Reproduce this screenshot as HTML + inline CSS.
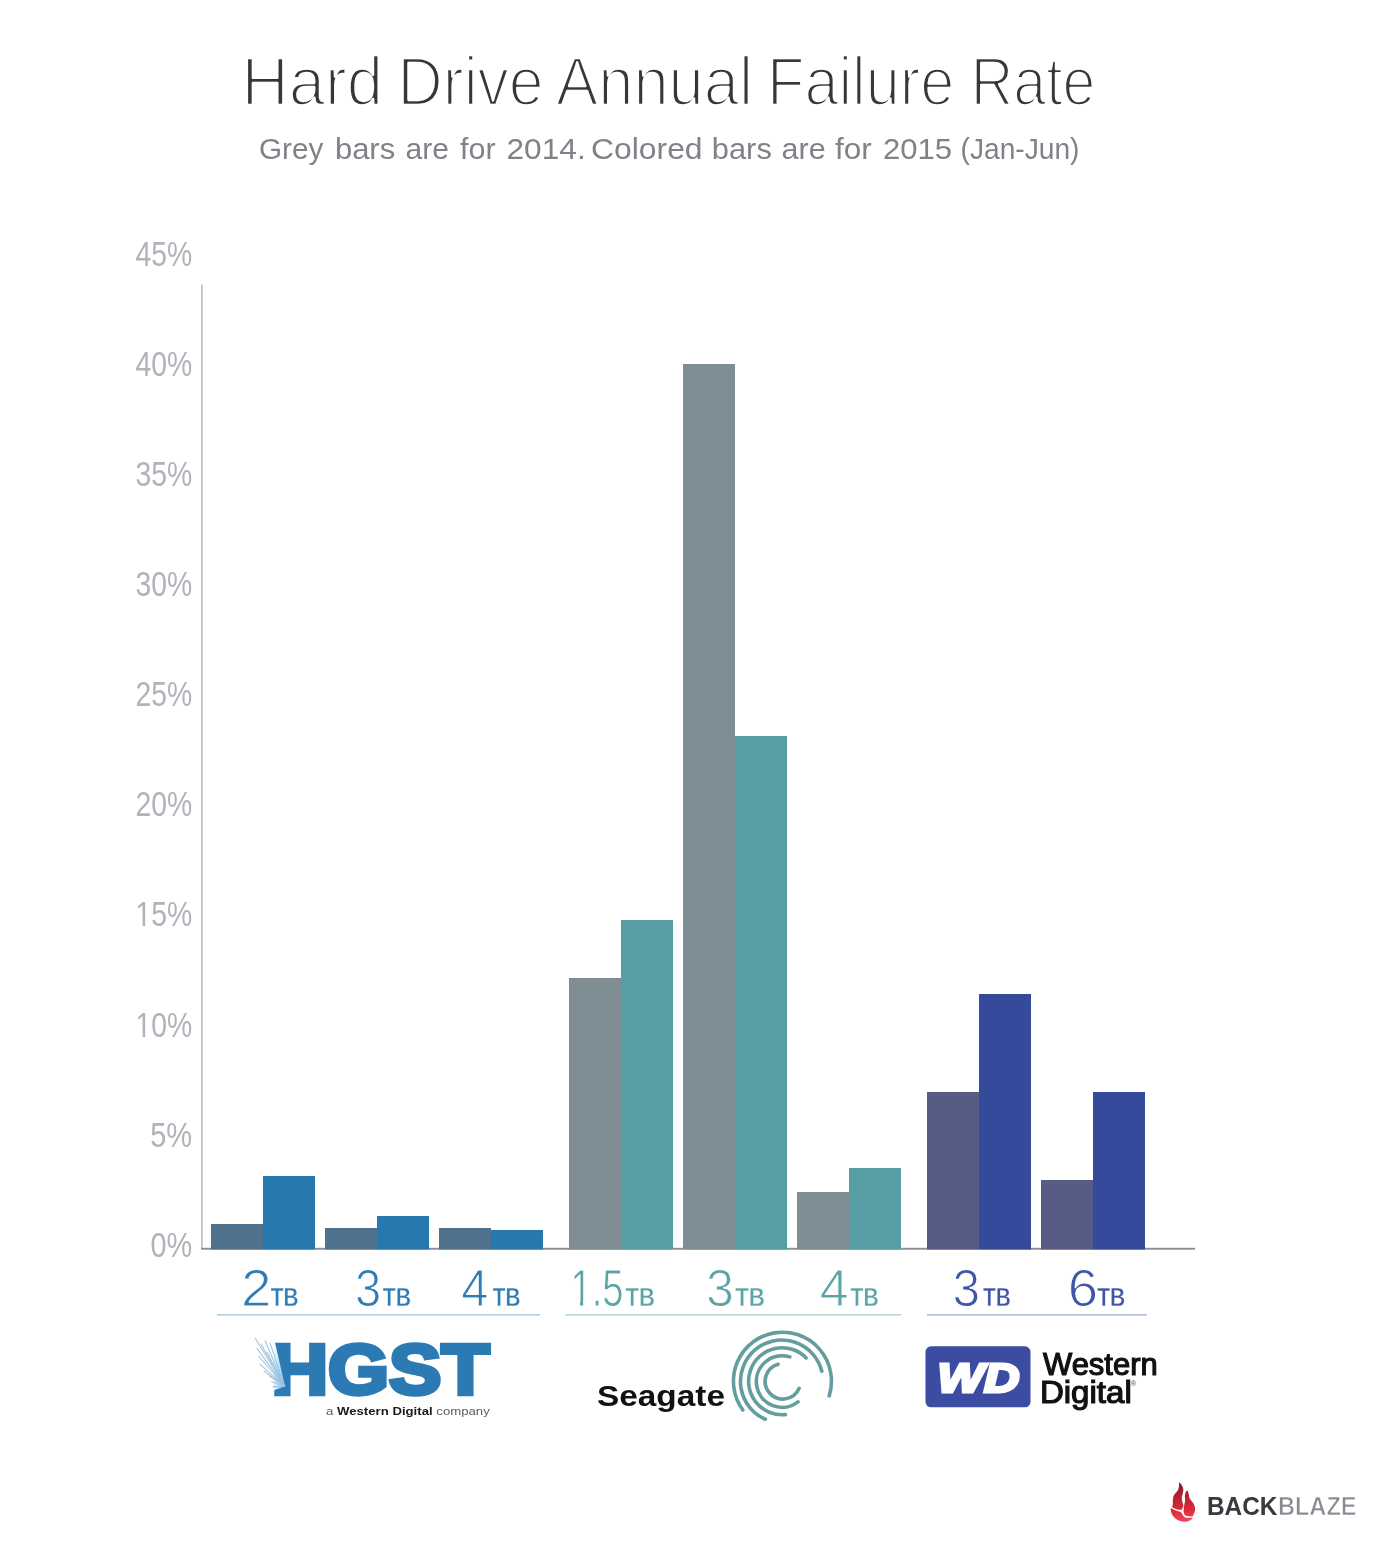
<!DOCTYPE html>
<html lang="en">
<head>
<meta charset="utf-8">
<title>Hard Drive Annual Failure Rate</title>
<style>
html,body{margin:0;padding:0;background:#fff;}
body{width:1390px;height:1548px;overflow:hidden;font-family:"Liberation Sans",sans-serif;}
svg{display:block;}
text{font-family:"Liberation Sans",sans-serif;}
.thin{stroke:#fff;paint-order:fill stroke;stroke-linejoin:round;}
.ylab{font-size:35.7px;fill:#b5b0ba;}
.num{font-size:51.6px;}
.tb{font-size:25px;font-weight:bold;stroke:#fff;stroke-width:0.35px;paint-order:fill stroke;}
</style>
</head>
<body>
<svg width="1390" height="1548" viewBox="0 0 1390 1548">
<rect width="1390" height="1548" fill="#ffffff"/>

<!-- Title -->
<g id="title" font-size="69.4" fill="#37363c" class="thin" stroke-width="2.6">
<text id="w0" x="241.5" y="104.9" textLength="141.6" lengthAdjust="spacingAndGlyphs">Hard</text>
<text id="w1" x="397.6" y="104.9" textLength="146.1" lengthAdjust="spacingAndGlyphs">Drive</text>
<text id="w2" x="556.0" y="104.9" textLength="197.0" lengthAdjust="spacingAndGlyphs">Annual</text>
<text id="w3" x="767.0" y="104.9" textLength="187.3" lengthAdjust="spacingAndGlyphs">Failure</text>
<text id="w4" x="970.8" y="104.9" textLength="124.5" lengthAdjust="spacingAndGlyphs">Rate</text>
</g>
<g id="subtitle" font-size="30" fill="#828188">
<text id="s0" x="259.0" y="159.2" textLength="64.4" lengthAdjust="spacingAndGlyphs">Grey</text>
<text id="s1" x="334.9" y="159.2" textLength="60.3" lengthAdjust="spacingAndGlyphs">bars</text>
<text id="s2" x="405.5" y="159.2" textLength="43.4" lengthAdjust="spacingAndGlyphs">are</text>
<text id="s3" x="460.0" y="159.2" textLength="35.6" lengthAdjust="spacingAndGlyphs">for</text>
<text id="s4" x="506.5" y="159.2" textLength="79.2" lengthAdjust="spacingAndGlyphs">2014.</text>
<text id="s5" x="591.0" y="159.2" textLength="111.6" lengthAdjust="spacingAndGlyphs">Colored</text>
<text id="s6" x="711.8" y="159.2" textLength="60.0" lengthAdjust="spacingAndGlyphs">bars</text>
<text id="s7" x="781.5" y="159.2" textLength="44.1" lengthAdjust="spacingAndGlyphs">are</text>
<text id="s8" x="835.0" y="159.2" textLength="36.8" lengthAdjust="spacingAndGlyphs">for</text>
<text id="s9" x="883.0" y="159.2" textLength="69.0" lengthAdjust="spacingAndGlyphs">2015</text>
<text id="s10" x="960.5" y="159.2" textLength="119.0" lengthAdjust="spacingAndGlyphs">(Jan-Jun)</text>
</g>

<!-- Y axis labels -->
<g id="ylabels" class="ylab" text-anchor="end">
<text id="y45" text-anchor="end" x="192.2" y="265.8" textLength="56.7" lengthAdjust="spacingAndGlyphs">45%</text>
<text id="y40" text-anchor="end" x="192.2" y="375.9" textLength="56.7" lengthAdjust="spacingAndGlyphs">40%</text>
<text id="y35" text-anchor="end" x="192.2" y="486.0" textLength="56.7" lengthAdjust="spacingAndGlyphs">35%</text>
<text id="y30" text-anchor="end" x="192.2" y="596.1" textLength="56.7" lengthAdjust="spacingAndGlyphs">30%</text>
<text id="y25" text-anchor="end" x="192.2" y="706.2" textLength="56.7" lengthAdjust="spacingAndGlyphs">25%</text>
<text id="y20" text-anchor="end" x="192.2" y="816.3" textLength="56.7" lengthAdjust="spacingAndGlyphs">20%</text>
<text id="y15" text-anchor="end" x="192.1" y="926.4" textLength="56.7" lengthAdjust="spacingAndGlyphs">15%</text>
<text id="y10" text-anchor="end" x="192.1" y="1036.5" textLength="56.7" lengthAdjust="spacingAndGlyphs">10%</text>
<text id="y5" text-anchor="end" x="192.1" y="1146.6" textLength="41.9" lengthAdjust="spacingAndGlyphs">5%</text>
<text id="y0" text-anchor="end" x="192.1" y="1256.7" textLength="41.7" lengthAdjust="spacingAndGlyphs">0%</text>
</g>

<!-- Axes -->
<rect x="201.1" y="284.5" width="1.6" height="965" fill="#bebac4"/>
<rect x="201.1" y="1247.8" width="994" height="1.9" fill="#8f8c93"/>

<!-- Bars -->
<g id="bars">
<rect x="211" y="1224" width="52" height="25.5" fill="#50718c"/>
<rect x="263" y="1176" width="52" height="73.5" fill="#2878b0"/>
<rect x="325" y="1228" width="52" height="21.5" fill="#50718c"/>
<rect x="377" y="1216" width="52" height="33.5" fill="#2878b0"/>
<rect x="439" y="1228" width="52" height="21.5" fill="#50718c"/>
<rect x="491" y="1230" width="52" height="19.5" fill="#2878b0"/>

<rect x="569" y="978" width="52" height="271.5" fill="#7f8e95"/>
<rect x="621" y="920" width="52" height="329.5" fill="#569ea3"/>
<rect x="683" y="364" width="52" height="885.5" fill="#7f8e95"/>
<rect x="735" y="736" width="52" height="513.5" fill="#569ea3"/>
<rect x="797" y="1192" width="52" height="57.5" fill="#7f8e95"/>
<rect x="849" y="1168" width="52" height="81.5" fill="#569ea3"/>

<rect x="927" y="1092" width="52" height="157.5" fill="#565c83"/>
<rect x="979" y="994" width="52" height="255.5" fill="#364a9c"/>
<rect x="1041" y="1180" width="52" height="69.5" fill="#565c83"/>
<rect x="1093" y="1092" width="52" height="157.5" fill="#364a9c"/>
</g>


<!-- X labels -->
<g id="xlabels">
<g fill="#2e7cb4">
<text id="n1" class="num thin" stroke-width="1.1" x="240.9" y="1305.9" textLength="30.5" lengthAdjust="spacingAndGlyphs">2</text>
<text id="t1" class="tb" x="270.8" y="1305.9" textLength="27.7" lengthAdjust="spacingAndGlyphs">TB</text>
<text id="n2" class="num thin" stroke-width="1.1" x="355.0" y="1305.9" textLength="26.2" lengthAdjust="spacingAndGlyphs">3</text>
<text id="t2" class="tb" x="382.8" y="1305.9" textLength="28.3" lengthAdjust="spacingAndGlyphs">TB</text>
<text id="n3" class="num thin" stroke-width="1.1" x="461.3" y="1305.9" textLength="27.2" lengthAdjust="spacingAndGlyphs">4</text>
<text id="t3" class="tb" x="492.8" y="1305.9" textLength="27.6" lengthAdjust="spacingAndGlyphs">TB</text>
</g>
<g fill="#5ca3a6">
<text id="n4" class="num thin" style="font-size:51.2px" stroke-width="0.8" x="570.4" y="1305.9" textLength="53.2" lengthAdjust="spacingAndGlyphs">1.5</text>
<text id="t4" class="tb" x="625.4" y="1305.9" textLength="29.5" lengthAdjust="spacingAndGlyphs">TB</text>
<text id="n5" class="num thin" stroke-width="1.1" x="705.9" y="1305.9" textLength="28.0" lengthAdjust="spacingAndGlyphs">3</text>
<text id="t5" class="tb" x="735.2" y="1305.9" textLength="29.8" lengthAdjust="spacingAndGlyphs">TB</text>
<text id="n6" class="num thin" stroke-width="1.1" x="819.7" y="1305.9" textLength="28.9" lengthAdjust="spacingAndGlyphs">4</text>
<text id="t6" class="tb" x="850.6" y="1305.9" textLength="28.1" lengthAdjust="spacingAndGlyphs">TB</text>
</g>
<g fill="#3f55a8">
<text id="n7" class="num thin" stroke-width="1.1" x="952.4" y="1305.9" textLength="27.6" lengthAdjust="spacingAndGlyphs">3</text>
<text id="t7" class="tb" x="983.0" y="1305.9" textLength="27.9" lengthAdjust="spacingAndGlyphs">TB</text>
<text id="n8" class="num thin" stroke-width="1.1" x="1067.7" y="1305.9" textLength="30.3" lengthAdjust="spacingAndGlyphs">6</text>
<text id="t8" class="tb" x="1097.2" y="1305.9" textLength="28.1" lengthAdjust="spacingAndGlyphs">TB</text>
</g>
<g id="footcover" fill="#ffffff">
<rect x="571.5" y="1301.6" width="8.5" height="5.4"/>
<rect x="136.4" y="922.5" width="6.2" height="4.4"/>
<rect x="145.2" y="922.5" width="5.4" height="4.4"/>
<rect x="136.4" y="1032.6" width="6.2" height="4.4"/>
<rect x="145.2" y="1032.6" width="5.4" height="4.4"/>
<rect x="583.2" y="1301.6" width="7.6" height="5.4"/>
</g>
<rect x="217" y="1314" width="323" height="1.6" fill="#a9cfe9"/>
<rect x="565" y="1314" width="336" height="1.6" fill="#b9d6d8"/>
<rect x="927" y="1314" width="220" height="1.6" fill="#b4bde6"/>
</g>

<!-- HGST logo -->
<g id="g-hgst">
<text id="hgst" x="271.4" y="1393.7" font-size="70.2" font-weight="bold" fill="#2b7ab3" stroke="#2b7ab3" stroke-width="4.4" stroke-linejoin="miter" textLength="218.0" lengthAdjust="spacingAndGlyphs">HGST</text>
<defs><linearGradient id="fan" x1="0" y1="0" x2="1" y2="0.3"><stop offset="0" stop-color="#ffffff"/><stop offset="1" stop-color="#8fd0f5"/></linearGradient></defs>
<path d="M273.6 1341.4L274.8 1341.4L285 1386.2L273.6 1390.4Z" fill="url(#fan)"/>
<g stroke="#9cc3dd" stroke-width="1.1" fill="none" stroke-linecap="round" opacity="0.95">
<path d="M284.6 1386.2L255.1 1338.0"/>
<path d="M284.6 1386.2L265.1 1340.8"/>
<path d="M284.6 1386.2L256.9 1348.4"/>
<path d="M284.6 1386.2L261.0 1344.0"/>
<path d="M284.6 1386.2L259.7 1364.2"/>
<path d="M284.6 1386.2L258.5 1356.0"/>
<path d="M284.6 1386.2L264.0 1371.0"/>
<path d="M284.6 1386.2L269.5 1376.1"/>
<path d="M284.6 1386.2L271.6 1381.8"/>
<path d="M284.6 1386.2L273.0 1386.9"/>
<path d="M284.6 1386.2L270.0 1343.0"/>
<path d="M284.6 1386.2L267.0 1352.0"/>
</g>
<text id="tag" x="326.0" y="1415" font-size="10.6" fill="#5a5a60" textLength="163.8" lengthAdjust="spacingAndGlyphs">a <tspan font-weight="bold" fill="#1a1a1e">Western Digital</tspan> company</text>
</g>

<!-- Seagate logo -->
<g id="g-seagate">
<text id="sea" x="597.0" y="1405.5" font-size="30" font-weight="bold" fill="#111114" textLength="128.0" lengthAdjust="spacingAndGlyphs">Seagate</text>
<g fill="none" stroke="#639d9f" stroke-width="3.6" stroke-linecap="round">
<path d="M742.8 1410.0A49.0 49.0 0 1 1 829.2 1395.9"/>
<path d="M765.3 1419.2A41.3 41.3 0 1 1 821.8 1371.2"/>
<path d="M785.4 1414.6A33.5 33.5 0 1 1 806.1 1357.9"/>
<path d="M798.0 1401.9A25.8 25.8 0 1 1 789.8 1356.9"/>
<path d="M799.1 1388.4A17.7 17.7 0 1 1 778.1 1364.3"/>
</g>
</g>

<!-- WD logo -->
<g id="g-wd">
<rect x="925.5" y="1346.3" width="105" height="61" rx="5.5" ry="5.5" fill="#3b4ca2"/>
<text id="wdt" x="937.6" y="1391.6" font-size="41.5" font-weight="bold" font-style="italic" fill="#fff" stroke="#fff" stroke-width="3" textLength="81.8" lengthAdjust="spacingAndGlyphs">WD</text>
<text id="west" x="1043.0" y="1375.3" font-size="31.6" fill="#111114" stroke="#111114" stroke-width="1.2" textLength="114.7" lengthAdjust="spacingAndGlyphs">Western</text>
<text id="digi" x="1039.9" y="1402.8" font-size="31.6" fill="#111114" stroke="#111114" stroke-width="1.2" textLength="91.9" lengthAdjust="spacingAndGlyphs">Digital</text>
<text x="1131" y="1386" font-size="7" fill="#444">®</text>
</g>

<!-- Backblaze logo -->
<g id="g-backblaze">
<defs>
<linearGradient id="fl" gradientUnits="userSpaceOnUse" x1="1180" y1="1482" x2="1184" y2="1522">
<stop offset="0" stop-color="#7c1f2d"/>
<stop offset="0.35" stop-color="#b6202f"/>
<stop offset="0.7" stop-color="#dc2a3a"/>
<stop offset="1" stop-color="#f2495a"/>
</linearGradient>
</defs>
<path fill="url(#fl)" d="M1179.37 1482.14C1179.91 1482.14 1181.60 1484.70 1182.26 1485.94C1182.92 1487.18 1183.29 1488.17 1183.35 1489.56C1183.41 1490.94 1182.89 1492.93 1182.62 1494.26C1182.35 1495.59 1181.78 1496.31 1181.72 1497.52C1181.66 1498.72 1181.99 1500.17 1182.26 1501.50C1182.53 1502.82 1183.35 1504.27 1183.35 1505.48C1183.35 1506.68 1182.62 1508.01 1182.26 1508.73C1181.90 1509.46 1182.14 1509.73 1181.18 1509.82C1180.21 1509.91 1177.95 1509.70 1176.47 1509.27C1174.99 1508.85 1172.91 1508.04 1172.31 1507.29C1171.71 1506.53 1172.76 1505.96 1172.85 1504.75C1172.94 1503.55 1172.67 1501.62 1172.85 1500.05C1173.03 1498.48 1173.10 1496.97 1173.94 1495.35C1174.78 1493.72 1177.07 1491.85 1177.92 1490.28C1178.76 1488.71 1178.76 1487.30 1179.00 1485.94C1179.25 1484.58 1178.82 1482.14 1179.37 1482.14Z"/>
<path fill="url(#fl)" d="M1187.33 1490.46C1187.87 1490.70 1188.41 1493.02 1188.77 1494.26C1189.13 1495.50 1188.95 1496.67 1189.50 1497.88C1190.04 1499.08 1191.18 1500.17 1192.03 1501.50C1192.87 1502.82 1194.07 1504.39 1194.56 1505.84C1195.06 1507.29 1195.12 1508.85 1195.00 1510.18C1194.88 1511.51 1194.24 1512.80 1193.84 1513.80C1193.43 1514.79 1193.36 1515.73 1192.57 1516.15C1191.79 1516.57 1190.34 1516.42 1189.13 1516.33C1187.93 1516.24 1186.24 1516.27 1185.34 1515.61C1184.43 1514.94 1183.98 1513.50 1183.71 1512.35C1183.44 1511.20 1183.59 1510.12 1183.71 1508.73C1183.83 1507.35 1184.19 1505.48 1184.43 1504.03C1184.67 1502.58 1185.09 1501.32 1185.15 1500.05C1185.22 1498.78 1184.73 1497.64 1184.79 1496.43C1184.85 1495.23 1185.09 1493.81 1185.52 1492.81C1185.94 1491.82 1186.78 1490.22 1187.33 1490.46Z"/>
<path fill="url(#fl)" d="M1171.04 1508.37C1171.56 1508.18 1172.79 1509.34 1173.94 1509.82C1175.08 1510.30 1176.77 1510.90 1177.92 1511.26C1179.06 1511.63 1180.09 1511.51 1180.81 1511.99C1181.54 1512.47 1181.66 1513.32 1182.26 1514.16C1182.86 1515.00 1183.47 1516.42 1184.43 1517.05C1185.40 1517.69 1186.69 1517.81 1188.05 1517.96C1189.41 1518.11 1192.09 1517.67 1192.57 1517.96C1193.05 1518.24 1191.82 1519.09 1190.94 1519.66C1190.07 1520.23 1188.53 1521.03 1187.33 1521.40C1186.12 1521.76 1185.03 1521.94 1183.71 1521.83C1182.38 1521.72 1180.81 1521.35 1179.37 1520.74C1177.92 1520.14 1176.23 1519.24 1175.02 1518.21C1173.82 1517.19 1172.82 1515.80 1172.13 1514.59C1171.44 1513.39 1171.04 1512.01 1170.86 1510.98C1170.68 1509.94 1170.53 1508.56 1171.04 1508.37Z"/>
<text id="back" x="1207.0" y="1515" font-size="25.5" font-weight="bold" fill="#3a393f" textLength="70.5" lengthAdjust="spacingAndGlyphs">BACK</text>
<text id="blaze" x="1277.9" y="1515" font-size="25.5" font-weight="bold" fill="#8b8891" class="thin" stroke-width="0.7" textLength="78.7" lengthAdjust="spacingAndGlyphs">BLAZE</text>
</g>
</svg>
</body>
</html>
